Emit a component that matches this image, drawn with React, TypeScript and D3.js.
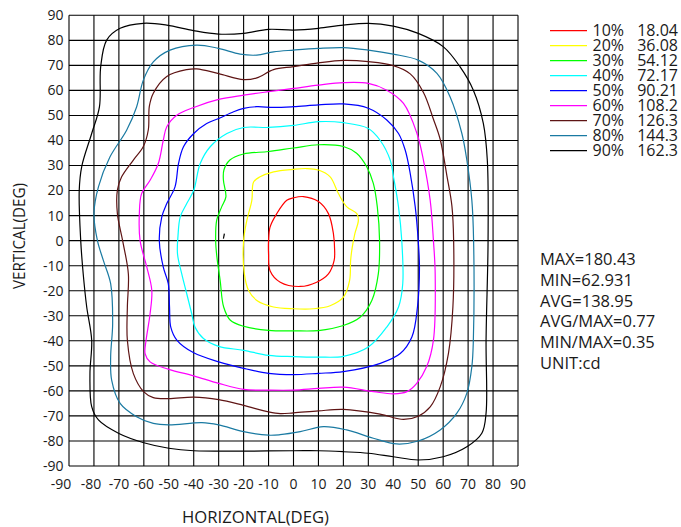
import React from "react";
import * as d3 from "d3";

const ticks = d3.range(-90, 91, 10);
const levels = ["10%", "20%", "30%", "40%", "50%", "60%", "70%", "80%", "90%"];
const levelValues = ["18.04", "36.08", "54.12", "72.17", "90.21", "108.2", "126.3", "144.3", "162.3"];
const levelColors = ["#ff0000", "#ffff00", "#00ff00", "#00ffff", "#0000ff", "#ff00ff", "#5e1414", "#1a7aa2", "#000000"];
const stats = ["MAX=180.43", "MIN=62.931", "AVG=138.95", "AVG/MAX=0.77", "MIN/MAX=0.35", "UNIT:cd"];

type P = [number, number];

const c10: P[] = [
  [0, 17.1], [4, 17.6], [10, 15.6], [14, 10.8], [16, 2.8], [16.5, -4], [16.3, -7.9], [14, -13.3], [9.3, -16.6],
  [2.7, -18.3], [-5.3, -16.6], [-9.4, -12], [-10, -5.3], [-10, 0], [-9.4, 5.4], [-6.7, 10.8], [-2.7, 16.1],
];
const c20: P[] = [
  [0, 28.5], [5.3, 28.8], [10, 28.2], [14.7, 25.5], [18, 18.8], [21.4, 13.5], [25.4, 10.8], [26, 8.1], [24.6, 2.8],
  [23.5, -3], [22.9, -7.9], [22.5, -15.9], [20, -22.6], [14.7, -26], [8, -27.2], [0, -27.2], [-8, -26.5],
  [-14.7, -23.9], [-18, -19.9], [-19.7, -13.3], [-20, 0], [-18.7, 8.1], [-16.7, 16.1], [-16, 23.4], [-13.4, 25.5],
  [-8, 27.5],
];
const c30: P[] = [
  [0, 37], [10, 38.3], [20, 37.6], [25.3, 34.9], [29.3, 29.6], [32, 22.9], [33.6, 13.5], [34.5, 0], [34, -13.3],
  [31.4, -23.9], [26.7, -30.6], [20, -33.9], [10, -35.9], [0, -36], [-10, -35.8], [-20, -34.2], [-25.3, -31.8],
  [-28, -26.5], [-29.4, -15.9], [-30.7, -6.6], [-31.2, 0], [-30.8, 8.1], [-28.8, 13.5], [-27.1, 17.5],
  [-28.1, 24.2], [-27.9, 28.2], [-25.5, 32.2], [-20, 34.6], [-10, 35.6],
];
const c40: P[] = [
  [0, 46], [10, 47.5], [20, 47.1], [30, 44.8], [34.7, 40.1], [38.8, 32.1], [40.1, 25.4], [42.1, 13.5], [43.4, 0],
  [43.8, -17.2], [42.1, -26.5], [37.4, -34.5], [30, -42.5], [20, -46.2], [10, -46.5], [0, -46.3], [-10, -45.8],
  [-20, -43.8], [-30, -42.2], [-36.1, -39.1], [-39.5, -34.5], [-40.8, -29.2], [-42.8, -21.2], [-44.8, -13.3],
  [-46.5, -5.3], [-46.3, 2], [-45.4, 9.5], [-42.8, 14.8], [-40, 20.1], [-37.4, 30.8], [-33.4, 37.5],
  [-26.7, 42.8], [-20, 45.2], [-10, 45.2],
];
const c50: P[] = [
  [0, 53.5], [10, 54.2], [20, 54.6], [30, 52.9], [37.4, 48.2], [42.1, 42.8], [44.8, 36.1], [46.8, 26.8],
  [48.8, 13.5], [50, 0], [50.5, -10.6], [49.7, -26.5], [47.5, -38.4], [42.8, -45.1], [34.8, -49], [20, -52.3],
  [10, -53], [0, -53.5], [-10, -53], [-20, -51], [-30, -48.4], [-40, -44.8], [-46.7, -39.8], [-49.2, -34.5],
  [-49.7, -26.5], [-50.2, -17.2], [-52.2, -10.6], [-53.8, 0], [-52.8, 9.5], [-50.8, 14.8], [-47.5, 21.5],
  [-46.1, 30.8], [-44.1, 37.5], [-40, 42.8], [-34.8, 46.8], [-30, 48.8], [-24, 51.5], [-20, 52.8],
  [-14.7, 53.5], [-8, 53.2],
];
const c60: P[] = [
  [0, 60.8], [10, 62.1], [20, 63.1], [30, 62.8], [37.4, 60.1], [44.1, 54.8], [49.5, 42.8], [52.1, 32.1],
  [54.8, 16.1], [56.1, 0], [56.8, -13.3], [56.1, -39.7], [53.4, -50.3], [49.4, -57], [45.5, -60.3],
  [40.1, -61.2], [32.1, -60.3], [20, -58.5], [10, -59], [0, -59.7], [-10, -59.7], [-20, -59.4], [-30, -57],
  [-40, -54], [-50, -51.4], [-57.5, -48.4], [-59.5, -45.1], [-59.1, -39.8], [-57.5, -29.2], [-56.8, -19.9],
  [-58.8, -10.6], [-61.5, 0], [-61.8, 10.8], [-60.9, 18.8], [-57.5, 24.1], [-54.2, 30.8], [-52.2, 40.1],
  [-50.8, 45.5], [-46.8, 50.1], [-40, 53.2], [-30, 56.4], [-20, 58.1], [-10, 59.5],
];
const c70: P[] = [
  [0, 69.5], [10, 71], [20, 72], [30, 71.5], [40, 69.9], [46.8, 66.6], [52.1, 59.2], [56.1, 48.5], [58.8, 40.5],
  [61.5, 25.9], [63.5, 13.9], [64.2, 0], [63.9, -26.5], [62.1, -45.1], [58.8, -58.4], [54.8, -66.4],
  [50, -70.1], [44.1, -71.4], [34.7, -69.3], [20, -67.4], [10, -68], [0, -68.8], [-5.3, -69.1], [-10, -68.4],
  [-20, -65.8], [-30, -63.5], [-40, -62.5], [-50, -63.1], [-56.2, -62.7], [-60, -60.4], [-64.2, -53.1],
  [-66.6, -39.8], [-66.6, -26.5], [-66.2, -13.3], [-68.5, 0], [-70.6, 10.8], [-70.6, 20.2], [-68.9, 25.5],
  [-64.2, 32.2], [-60.2, 37.6], [-58.2, 44.3], [-57.8, 53.6], [-56.2, 58.9], [-50.8, 65.6], [-42.8, 68.3],
  [-38.8, 68.6], [-30, 66.7], [-20, 64.3], [-14.7, 65], [-8, 68.3],
];
const c80: P[] = [
  [0, 76.1], [10, 76.8], [20, 77.1], [30, 76.1], [40, 74.5], [50, 72.1], [57.5, 66.8], [62.8, 57.4],
  [67.5, 42.8], [69.5, 32.1], [71.5, 16.1], [72.2, 0], [72.1, -39.7], [71.5, -50.3], [69.5, -60.9],
  [65.5, -68.9], [58.8, -75.6], [50, -80], [41.4, -81.2], [32, -78.9], [21.3, -75.6], [12, -74.3],
  [2.7, -76.3], [-5.4, -77.5], [-10, -77.7], [-20, -76.3], [-30, -73.6], [-36.7, -72.7], [-50, -73.6],
  [-56.2, -73], [-62.9, -70.3], [-69.5, -65], [-72.9, -55.7], [-73.3, -46.4], [-72.5, -33.1], [-73.3, -17.2],
  [-76.2, -8], [-78.6, 0], [-80, 10.8], [-78.2, 21.5], [-73.6, 33.4], [-66.9, 44.1], [-62.9, 53.4],
  [-60.2, 64.1], [-56.2, 71.4], [-49.5, 76.1], [-38.8, 78.1], [-30.1, 76.8], [-21.4, 74.5], [-14.7, 74.1],
  [-8, 75.4],
];
const c90: P[] = [
  [0, 84.1], [10, 84.8], [20, 86.1], [30, 86.8], [40, 85.7], [50, 82.8], [60, 77.5], [66.8, 69.4], [72.1, 60.1],
  [76.1, 46.8], [77.7, 32.1], [78, 0], [77.2, -39.7], [77.2, -68.9], [75.5, -76.9], [69.5, -82.3], [60, -86.3],
  [50, -87.6], [40, -86.3], [30, -84.9], [20, -84.3], [10, -83.9], [0, -83.9], [-40, -83.9], [-50, -82.9],
  [-60, -80.7], [-70, -77], [-78.2, -71.6], [-80.9, -66.3], [-81.6, -53.1], [-80.9, -39.8], [-82.9, -26.5],
  [-84.3, -13.3], [-85.3, 0], [-85.9, 20], [-84.9, 29.6], [-80.9, 42.8], [-77.8, 53.4], [-77.3, 69.4],
  [-74.9, 80.1], [-69.5, 84.8], [-60.2, 86.8], [-50.8, 86.1], [-40.1, 83.9], [-30.1, 82.5], [-20, 82.8],
  [-10, 84.4],
];
const contours: P[][] = [c10, c20, c30, c40, c50, c60, c70, c80, c90];
const stray: P[] = [[-28.1, 0.8], [-27.7, 2.8]];

export default function App() {
  const W = 681;
  const H = 527;
  const x = d3.scaleLinear().domain([-90, 90]).range([69, 518]);
  const y = d3.scaleLinear().domain([-90, 90]).range([466, 15.3]);
  const line = d3
    .line<P>()
    .x((d) => x(d[0]))
    .y((d) => y(d[1]))
    .curve(d3.curveCatmullRomClosed.alpha(0.5));
  const open = d3
    .line<P>()
    .x((d) => x(d[0]))
    .y((d) => y(d[1]));
  const font = "'Open Sans', 'Noto Sans', sans-serif";
  const xLabelShift = (t: number) => (t === -90 ? -8 : t === -80 ? -3 : 0);
  return (
    <svg
      width={W}
      height={H}
      style={{ position: "absolute", left: 0, top: 0, background: "#fff" }}
      fontFamily={font}
    >
      <rect width={W} height={H} fill="#fff" />
      <g>
        {ticks.map((t) => (
          <line key={"v" + t} x1={x(t)} x2={x(t)} y1={y(-90)} y2={y(90)} stroke="#000" strokeWidth={1.1} />
        ))}
        {ticks.map((t) => (
          <line key={"h" + t} x1={x(-90)} x2={x(90)} y1={y(t)} y2={y(t)} stroke="#000" strokeWidth={1.1} />
        ))}
      </g>
      <g fill="none" strokeWidth={1.2}>
        {contours.map((c, i) => (
          <path key={i} d={line(c) || ""} stroke={levelColors[i]} />
        ))}
        <path d={open(stray) || ""} stroke="#000" />
      </g>
      <g fontSize={14} fill="#1a1a1a">
        {ticks.map((t) => (
          <text key={"xt" + t} x={x(t) + xLabelShift(t)} y={489} textAnchor="middle">
            {t}
          </text>
        ))}
        {ticks.map((t) => (
          <text key={"yt" + t} x={63.5} y={y(t)} dy="0.35em" textAnchor="end">
            {t}
          </text>
        ))}
      </g>
      <text
        x={255.5}
        y={522.5}
        textAnchor="middle"
        fontSize={17}
        fill="#1a1a1a"
        textLength={147}
        lengthAdjust="spacingAndGlyphs"
      >
        HORIZONTAL(DEG)
      </text>
      <text
        transform={`translate(25,236) rotate(-90)`}
        textAnchor="middle"
        fontSize={17}
        fill="#1a1a1a"
        textLength={106}
        lengthAdjust="spacingAndGlyphs"
      >
        VERTICAL(DEG)
      </text>
      <g fontSize={16} fill="#1a1a1a">
        {levels.map((l, i) => (
          <g key={l} transform={`translate(0,${30.7 + i * 15})`}>
            <line x1={550} x2={587} y1={0} y2={0} stroke={levelColors[i]} strokeWidth={1.2} />
            <text x={592.5} y={0} dy="0.36em">
              {l}
            </text>
            <text x={678} y={0} dy="0.36em" textAnchor="end">
              {levelValues[i]}
            </text>
          </g>
        ))}
      </g>
      <g fontSize={16.5} fill="#1a1a1a">
        {stats.map((s, i) => (
          <text key={s} x={540} y={265 + i * 20.8}>
            {s}
          </text>
        ))}
      </g>
    </svg>
  );
}
